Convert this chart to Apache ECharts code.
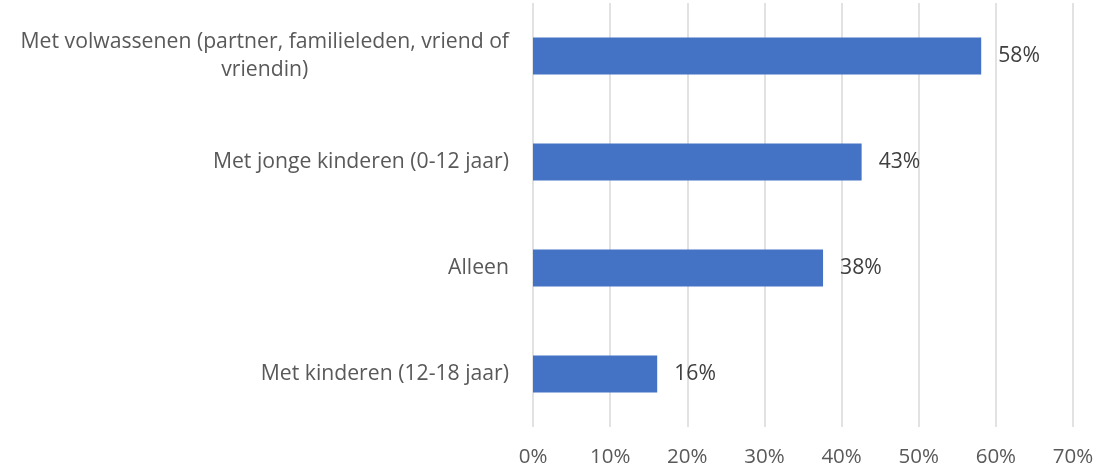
<!DOCTYPE html>
<html>
<head>
<meta charset="utf-8">
<script src="https://cdn.jsdelivr.net/npm/echarts@6/dist/echarts.min.js"></script>
<style>html,body{margin:0;padding:0;background:#fff;}#c{width:1116px;height:470px;}</style>
</head>
<body>
<div id="c"></div>
<script>
const categories = [
  "Met kinderen (12-18 jaar)",
  "Alleen",
  "Met jonge kinderen (0-12 jaar)",
  "Met volwassenen (partner, familieleden, vriend of vriendin)"
];
const values = [16.1, 37.6, 42.6, 58.1];
const tickLabels = ["0%", "10%", "20%", "30%", "40%", "50%", "60%", "70%"];

const FONT = "Open Sans";
const FS = 21.2;
const ctx = document.createElement('canvas').getContext('2d');
ctx.font = FS + 'px "' + FONT + '"';
function wrap(text, maxW) {
  const words = text.split(' ');
  const lines = [];
  let cur = '';
  for (const w of words) {
    const t = cur ? cur + ' ' + w : w;
    if (cur && ctx.measureText(t).width > maxW) { lines.push(cur); cur = w; }
    else cur = t;
  }
  if (cur) lines.push(cur);
  return lines;
}

const chart = echarts.init(document.getElementById('c'));
chart.setOption({
  animation: false,
  grid: { left: 533, right: 43, top: 3, bottom: 43, containLabel: false },
  xAxis: {
    type: 'value', min: 0, max: 70, interval: 10,
    axisLine: { show: false }, axisTick: { show: false },
    splitLine: { show: true, lineStyle: { color: '#d9d9d9', width: 1.5 } },
    axisLabel: {
      margin: 20, color: '#595959', fontFamily: FONT, fontSize: 20.5,
      formatter: (v) => tickLabels[Math.round(v / 10)]
    }
  },
  yAxis: {
    type: 'category', data: categories,
    axisLine: { show: false }, axisTick: { show: false },
    axisLabel: {
      margin: 24, color: '#595959', fontFamily: FONT, fontSize: FS, lineHeight: 28,
      formatter: (v) => wrap(v, 500).map(l => '{c|' + l + '}').join('\n'),
      rich: { c: { align: 'center', color: '#595959', fontFamily: FONT, fontSize: FS, lineHeight: 28 } }
    }
  },
  series: [{
    type: 'bar', data: values, barWidth: '35%',
    itemStyle: { color: '#4472c4' },
    label: {
      show: true, position: 'right', distance: 17,
      color: '#404040', fontFamily: FONT, fontSize: FS,
      formatter: (p) => Math.round(p.value) + '%'
    }
  }]
});
</script>
</body>
</html>
